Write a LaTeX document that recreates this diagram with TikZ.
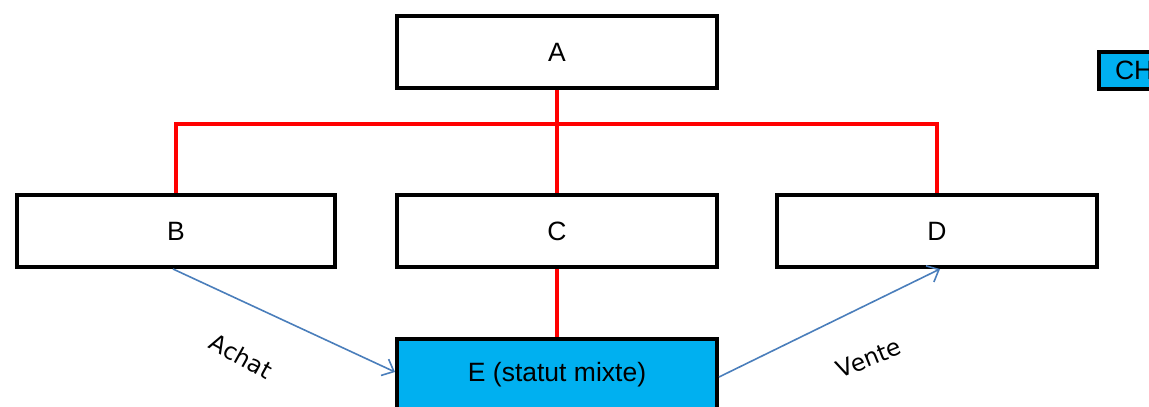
\documentclass[tikz,border=0pt]{standalone}
\usepackage{fontspec}
\setmainfont{Liberation Sans}
\newfontfamily\labelfont{DejaVu Sans}
\usetikzlibrary{arrows.meta}
\definecolor{boxcyan}{HTML}{00B0F0}
\definecolor{flowblue}{HTML}{4A7EBB}
\definecolor{linkred}{HTML}{FF0000}
\tikzset{
  unit/.style={draw=black, line width=4pt, minimum width=320pt, minimum height=72pt,
    inner sep=0pt, font=\fontsize{26.5}{30}\selectfont},
  mixed/.style={unit, fill=boxcyan},
  tie/.style={draw=linkred, line width=3.5pt},
  flow/.style={draw=flowblue, line width=1.6pt, -{Straight Barb[length=10pt, width=18pt, line width=1.6pt]}},
  flowlabel/.style={font=\labelfont\fontsize{23.5}{28}\selectfont, inner sep=0pt},
}
\begin{document}
\begin{tikzpicture}[x=1pt, y=-1pt]
\useasboundingbox (0,0) rectangle (1149,407);

\node[unit] (A) at (557,52) {A};
\node[unit, minimum width=318pt] (B) at (176,231) {B};
\node[unit] (C) at (557,231) {C};
\node[unit] (D) at (937,231) {D};
\node[mixed] (E) at (557,375) {E (statut mixte)};

% partially visible legend box at the right edge
\node[draw=black, fill=boxcyan, line width=4pt, anchor=west, minimum height=37pt,
  text width=60pt, align=left, inner xsep=16pt, inner ysep=0pt,
  font=\fontsize{26.5}{30}\selectfont] (CH) at (1097,70.5) {CH};

% red hierarchy lines
\coordinate (bus) at (557,124);
\draw[tie] (A.south) -- (C.north);
\draw[tie] (B.north) |- (bus) -| (D.north);
\draw[tie] (C.south) -- (E.north);

% purchase and sale flows
\draw[flow] ([xshift=-3pt]B.south) -- ([yshift=3pt]E.west);
\draw[flow] ([yshift=-2pt]E.east) -- ([xshift=3pt]D.south);

\node[flowlabel, rotate=-29] (achat) at (241,356) {Achat};
\node[flowlabel, rotate=22] (vente) at (869,358) {Vente};
\end{tikzpicture}
\end{document}
